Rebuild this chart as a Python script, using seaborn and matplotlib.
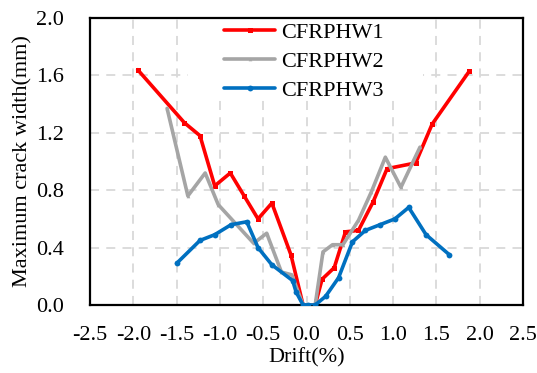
import matplotlib
matplotlib.use("Agg")
import matplotlib.pyplot as plt
from matplotlib.patches import Rectangle
import seaborn as sns
import pandas as pd

# Drift (%) and maximum crack width (mm) for each specimen
drift_w1 = [-1.95, -1.41, -1.23, -1.06, -0.88, -0.72, -0.56, -0.40, -0.18, -0.04, 0.10,
            0.18, 0.32, 0.45, 0.60, 0.77, 0.93, 1.26, 1.45, 1.88]
width_w1 = [1.64, 1.27, 1.18, 0.83, 0.92, 0.76, 0.60, 0.71, 0.35, 0.0, 0.0,
            0.18, 0.26, 0.51, 0.52, 0.72, 0.95, 0.99, 1.26, 1.63]

drift_w2 = [-1.61, -1.37, -1.17, -1.02, -0.61, -0.46, -0.29, -0.17, -0.04, 0.10,
            0.19, 0.30, 0.42, 0.60, 0.75, 0.91, 1.09, 1.31]
width_w2 = [1.37, 0.76, 0.92, 0.70, 0.43, 0.50, 0.23, 0.21, 0.0, 0.0,
            0.37, 0.42, 0.42, 0.59, 0.79, 1.03, 0.82, 1.10]

drift_w3 = [-1.50, -1.23, -1.06, -0.87, -0.69, -0.56, -0.40, -0.16, -0.12, -0.04, 0.02, 0.10,
            0.22, 0.37, 0.53, 0.68, 0.85, 1.02, 1.18, 1.38, 1.65]
width_w3 = [0.29, 0.45, 0.49, 0.56, 0.58, 0.40, 0.28, 0.17, 0.09, 0.0, 0.0, 0.0,
            0.06, 0.19, 0.44, 0.52, 0.56, 0.60, 0.68, 0.49, 0.35]

labels = ["CFRPHW1", "CFRPHW2", "CFRPHW3"]
x_ticks = [-2.5, -2.0, -1.5, -1.0, -0.5, 0.0, 0.5, 1.0, 1.5, 2.0, 2.5]
y_ticks = [0.0, 0.4, 0.8, 1.2, 1.6, 2.0]

sns.set_theme(style="white")
plt.rcParams["font.family"] = ["Liberation Serif", "DejaVu Serif"]

fig = plt.figure(figsize=(5.37, 3.73), dpi=100)
ax = fig.add_axes([0.1676, 0.1823, 0.8064, 0.7694])

series = [
    (drift_w1, width_w1, "#FF0000", "s", 3.6),
    (drift_w2, width_w2, "#A5A5A5", "^", 2.6),
    (drift_w3, width_w3, "#0070C0", "o", 4.2),
]
for (dx, wy, color, marker, ms), label in zip(series, labels):
    df = pd.DataFrame({"drift": dx, "width": wy})
    sns.lineplot(data=df, x="drift", y="width", ax=ax, sort=False, estimator=None,
                 color=color, linewidth=2.6, marker=marker, markersize=ms,
                 markeredgewidth=0, label=label, zorder=3)

ax.set_xlim(-2.5, 2.5)
ax.set_ylim(0, 2.0)
ax.set_xticks(x_ticks)
ax.set_yticks(y_ticks)
ax.set_xticklabels([f"{v:.1f}" for v in x_ticks])
ax.set_yticklabels([f"{v:.1f}" for v in y_ticks])
ax.tick_params(axis="both", length=0, labelsize=16, colors="black")
ax.tick_params(axis="x", pad=15)
ax.tick_params(axis="y", pad=19)

ax.grid(True, color="#D9D9D9", linestyle=(0, (5, 4)), linewidth=1.3)
ax.set_axisbelow(True)
for sp in ax.spines.values():
    sp.set_color("black")
    sp.set_linewidth(1.6)

ax.set_xlabel("Drift(%)", fontsize=16, color="black", labelpad=2)
ax.set_ylabel("Maximum crack width(mm)", fontsize=16, color="black", labelpad=2)

# white backing behind the legend so grid lines do not show through
ax.add_patch(Rectangle((0.226, 0.714), 0.543, 0.29, transform=ax.transAxes,
                       facecolor="white", edgecolor="none", zorder=1))

leg = ax.legend(loc="upper left", bbox_to_anchor=(0.305, 0.993), frameon=False,
                fontsize=16, handlelength=2.3, handletextpad=0.25,
                labelspacing=0.38, borderpad=0.1, borderaxespad=0)
leg.set_zorder(4)
for t in leg.get_texts():
    t.set_color("black")

fig.savefig("out.png", dpi=100)
